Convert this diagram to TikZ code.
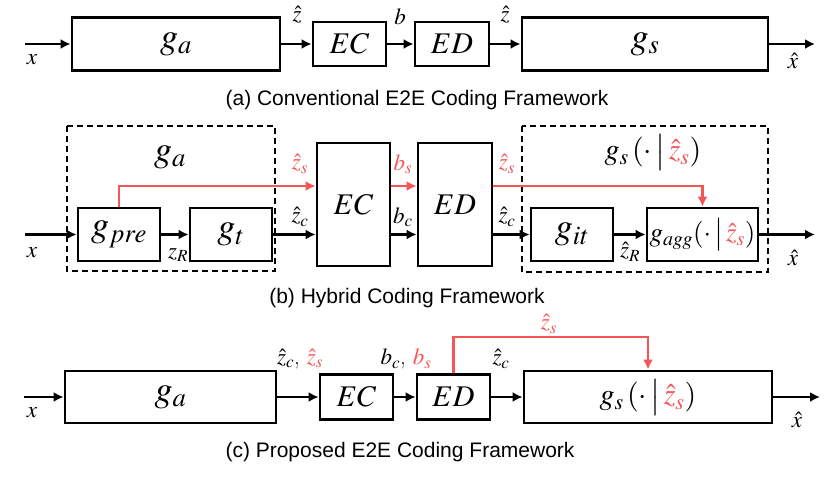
\documentclass[tikz,border=0pt]{standalone}
\usepackage{mathptmx}
\usepackage[no-math]{fontspec}
\newfontfamily\capfont{Liberation Sans}
\usetikzlibrary{arrows.meta}
\definecolor{hl}{RGB}{245,85,85}
\begin{document}
\begin{tikzpicture}[x=1pt,y=-1pt,
  blk/.style={draw,line width=2.8pt,inner sep=0pt,font=\fontsize{36}{36}\selectfont},
  codec/.style={blk,font=\fontsize{30}{30}\selectfont},
  dbox/.style={draw,line width=1.8pt,dash pattern=on 6pt off 4pt},
  conn/.style={line width=2.8pt,-{Latex[length=10pt,width=10pt]}},
  rconn/.style={conn,draw=hl},
  lab/.style={inner sep=0pt,font=\fontsize{23}{23}\selectfont},
  captxt/.style={inner sep=0pt,font=\capfont\fontsize{21}{21}\selectfont}]
\useasboundingbox (0,0) rectangle (831,483);

% ---------- (a) ----------
\node[blk,minimum width=208pt,minimum height=53pt] (ga1) at (176,44) {$g_a$};
\node[codec,minimum width=73pt,minimum height=44pt] (ec1) at (349.5,44) {$EC$};
\node[codec,minimum width=74pt,minimum height=44pt] (ed1) at (452,44) {$ED$};
\node[blk,minimum width=246pt,minimum height=53pt] (gs1) at (645,44) {$g_s$};
\coordinate (in1) at (25,44);
\coordinate (out1) at (815,44);
\draw[conn] (in1) -- (ga1);
\draw[conn] (ga1) -- (ec1);
\draw[conn] (ec1) -- (ed1);
\draw[conn] (ed1) -- (gs1);
\draw[conn] (gs1) -- (out1);
\node[lab] (xa) at (32,60) {$x$};
\node[lab] (za1) at (297,15) {$\hat z$};
\node[lab] (ba) at (400,17) {$b$};
\node[lab] (za2) at (505,15) {$\hat z$};
\node[lab] (xha) at (793,61) {$\hat x$};
\node[captxt] (capa) at (417,100) {(a) Conventional E2E Coding Framework};

% ---------- (b) ----------
\draw[dbox] (67,126) rectangle (275,271);
\draw[dbox] (522,126) rectangle (768,272);
\node[blk,minimum width=82pt,minimum height=53pt] (gpre) at (119,234.5) {$g_{pre}$};
\node[blk,minimum width=82pt,minimum height=53pt] (gt) at (231,234.5) {$g_t$};
\node[codec,minimum width=73pt,minimum height=123pt] (ec2) at (353.5,204.5) {$EC$};
\node[codec,minimum width=74pt,minimum height=123pt] (ed2) at (455,204.5) {$ED$};
\node[blk,minimum width=82pt,minimum height=53pt] (git) at (572,234.5) {$g_{it}$};
\node[blk,minimum width=111pt,minimum height=53pt,font=\fontsize{27}{27}\selectfont] (gagg) at (702.5,234.5)
  {$g_{agg}(\cdot\,\big|\,{\color{hl}\hat{z}_{s}})$};
\coordinate (in2) at (25,234.5);
\coordinate (out2) at (815,234.5);
\coordinate (rb) at (300,186);
\draw[conn] (in2) -- (gpre);
\draw[conn] (gpre) -- (gt);
\draw[conn] (gt.east) -- (gt.east -| ec2.west);
\draw[conn] (ec2.east |- gt.east) -- (ed2.west |- gt.east);
\draw[conn] (ed2.east |- git.west) -- (git.west);
\draw[conn] (git) -- (gagg);
\draw[conn] (gagg) -- (out2);
\draw[rconn] (gpre.north) |- (ec2.west |- rb);
\draw[rconn] (ec2.east |- rb) -- (ed2.west |- rb);
\draw[rconn] (ed2.east |- rb) -| (gagg.north);
\node[lab,font=\fontsize{36}{36}\selectfont] (gal) at (170,157) {$g_a$};
\node[lab,font=\fontsize{30}{30}\selectfont] (gsl) at (653,152) {$g_{s}\,(\cdot\,\big|\,{\color{hl}\hat{z}_{s}})$};
\node[lab] (xb) at (32,253) {$x$};
\node[lab] (zR) at (178,255) {$z_R$};
\node[lab,text=hl] (zs1) at (300,164) {$\hat z_s$};
\node[lab] (zc1) at (300,217) {$\hat z_c$};
\node[lab,text=hl] (bs) at (403,164) {$b_s$};
\node[lab] (bc) at (403,217) {$b_c$};
\node[lab,text=hl] (zs2) at (507,164) {$\hat z_s$};
\node[lab] (zc2) at (507,217) {$\hat z_c$};
\node[lab] (zhR) at (630,252) {$\hat z_R$};
\node[lab] (xhb) at (793,258) {$\hat x$};
\node[captxt] (capb) at (407,298) {(b) Hybrid Coding Framework};

% ---------- (c) ----------
\node[blk,minimum width=211pt,minimum height=52pt] (ga3) at (170.5,397) {$g_a$};
\node[codec,minimum width=73pt,minimum height=45pt] (ec3) at (356.5,397) {$EC$};
\node[codec,minimum width=73pt,minimum height=45pt] (ed3) at (453.5,397) {$ED$};
\node[blk,minimum width=248pt,minimum height=52pt,font=\fontsize{30}{30}\selectfont] (gs3) at (648,397)
  {$g_{s}\,(\cdot\,\big|\,{\color{hl}\hat{z}_{s}})$};
\coordinate (in3) at (24,397);
\coordinate (out3) at (820,397);
\coordinate (rc) at (549,337);
\draw[conn] (in3) -- (ga3);
\draw[conn] (ga3) -- (ec3);
\draw[conn] (ec3) -- (ed3);
\draw[conn] (ed3) -- (gs3);
\draw[conn] (gs3) -- (out3);
\draw[rconn] (ed3.north) |- (rc) -| (gs3.north);
\node[lab] (xc) at (32,413) {$x$};
\node[lab] (zcs) at (300,359) {$\hat z_c$, {\color{hl}$\hat z_s$}};
\node[lab] (bcs) at (406,359) {$b_c$, {\color{hl}$b_s$}};
\node[lab] (zc3) at (501,359) {$\hat z_c$};
\node[lab,text=hl] (zs3) at (549,324) {$\hat z_s$};
\node[lab] (xhc) at (797,420) {$\hat x$};
\node[captxt] (capc) at (400,452) {(c) Proposed E2E Coding Framework};
\end{tikzpicture}
\end{document}
